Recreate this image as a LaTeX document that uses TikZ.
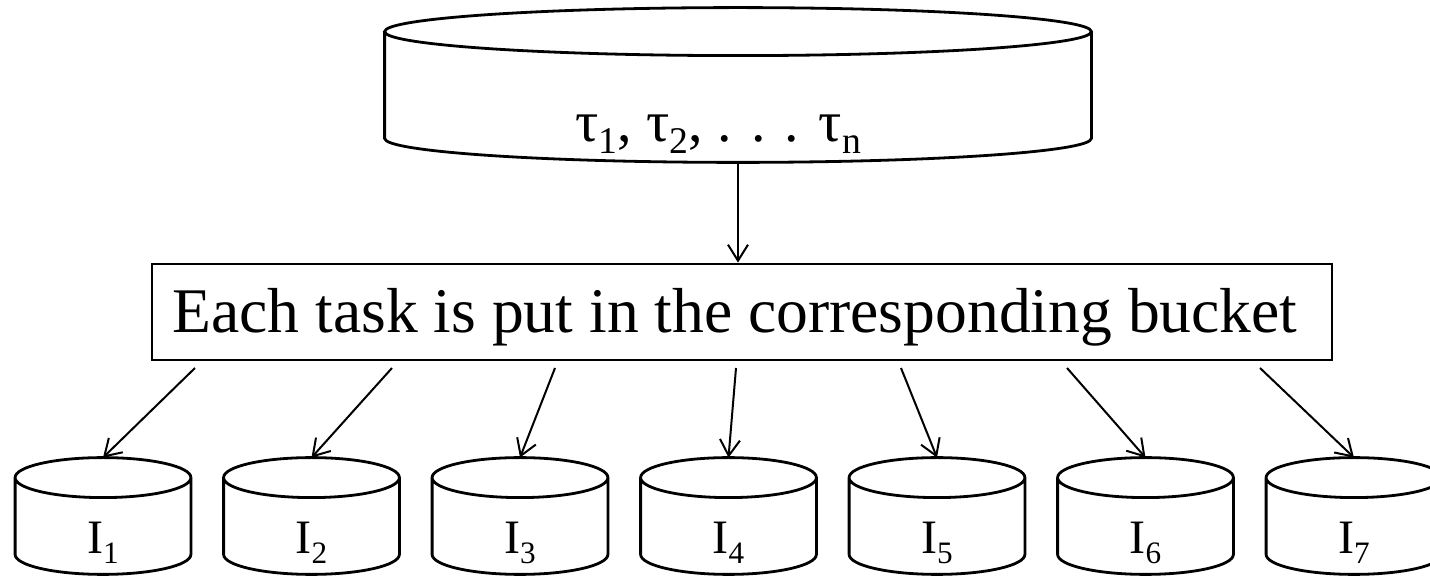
\documentclass[tikz,border=0pt]{standalone}
\usepackage{fontspec}
\setmainfont{Liberation Serif}
\usetikzlibrary{arrows.meta,calc}
\newcommand\lowsub[1]{\raisebox{-0.2em}{\scalebox{0.65}{#1}}}
% outline of a drum round a node: name, radius of the end ellipse
\newcommand\drumshape[2]{%
  \draw[drumline] let \p1=(#1.north west), \p2=(#1.south east), \n1={(\x2-\x1)/2} in
    (\x1,\y1-#2) -- (\x1,\y2+#2)
    arc[start angle=180, end angle=360, x radius=\n1, y radius=#2]
    -- (\x2,\y1-#2)
    arc[start angle=0, end angle=180, x radius=\n1, y radius=#2]
    arc[start angle=180, end angle=360, x radius=\n1, y radius=#2];}
\tikzset{
  drumline/.style={line width=1.4pt},
  pool/.style={rectangle, inner sep=0pt, minimum width=353pt, minimum height=77pt, text height=57pt, text depth=0pt, font=\fontsize{29}{34}\selectfont},
  bucket/.style={rectangle, inner sep=0pt, minimum width=87.5pt, minimum height=58pt, text height=38pt, text depth=0pt, font=\fontsize{24}{28}\selectfont},
  taskbox/.style={draw, line width=1.4pt, rectangle, minimum width=590pt, minimum height=48pt, inner sep=0pt, text height=21pt, text depth=0pt, font=\fontsize{31.8}{38}\selectfont},
  feed/.style={-{Straight Barb[length=8pt,width=10pt]}, line width=1pt}
}

\begin{document}
\begin{tikzpicture}[x=0.5pt, y=-0.5pt]
  \useasboundingbox (0,0) rectangle (1430,576);
  \node[pool] (pool) at (738,85) {τ\lowsub{1}, τ\lowsub{2}, . . . τ\lowsub{n}\kern20pt};
  \drumshape{pool}{12pt}
  \node[taskbox] (split) at (742,312) {Each task is put in the corresponding bucket\kern7pt};
  \draw[feed] (pool.south) -- (pool.south |- split.north);
  % buckets and the arrows that fill them
  \foreach \i/\sx in {1/195, 2/392, 3/555, 4/736, 5/901, 6/1067, 7/1260} {
    \node[bucket] (b\i) at ({103+208.5*(\i-1)},516) {I\lowsub{\i}};
    \drumshape{b\i}{10pt}
    \coordinate (s\i) at (\sx,368);
    \draw[feed] (s\i) -- (b\i.north);
  }
\end{tikzpicture}
\end{document}
